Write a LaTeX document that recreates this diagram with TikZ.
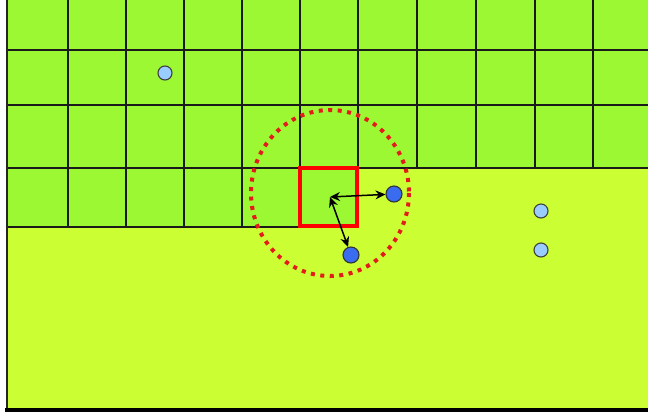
\documentclass[tikz,border=0pt]{standalone}
\usetikzlibrary{arrows.meta}
\definecolor{gridgreen}{HTML}{9BF833}
\definecolor{lowgreen}{HTML}{CCFF33}
\definecolor{lightblue}{HTML}{99CCFF}
\definecolor{darkblue}{HTML}{3A6CF0}
\definecolor{gridline}{HTML}{1A1A1A}
\definecolor{dotred}{HTML}{E41B1B}
\begin{document}
\begin{tikzpicture}[x=1pt,y=-1pt,
  gl/.style={draw=gridline, line width=2pt},
  lbdot/.style={circle, draw=black!75, line width=1.1pt, fill=lightblue, minimum size=14pt, inner sep=0pt},
  dbdot/.style={circle, draw=black!80, line width=1.1pt, fill=darkblue, minimum size=16pt, inner sep=0pt},
  arr/.style={{Stealth[length=10pt,width=9pt]}-{Stealth[length=10pt,width=9pt]}, line width=1.5pt, black}]
\useasboundingbox (0,0) rectangle (648,416);
\fill[white] (0,0) rectangle (648,416);
% lower region
\fill[lowgreen] (7,0) rectangle (648,410);
% grid region
\fill[gridgreen] (7,0) -- (648,0) -- (648,168) -- (358,168) -- (358,227) -- (7,227) -- cycle;
% horizontal grid lines
\draw[gl] (7,50) -- (648,50);
\draw[gl] (7,105) -- (648,105);
\draw[gl] (7,168) -- (648,168);
\draw[gl] (7,227) -- (300,227);
% vertical grid lines
\foreach \x in {68,126,184,242} \draw[gl] (\x,0) -- (\x,227);
\foreach \x in {300,358,417,476,535,593} \draw[gl] (\x,0) -- (\x,168);
% frame
\draw[draw=black!85, line width=2pt] (7,0) -- (7,410);
\draw[draw=black, line width=4pt] (5,410) -- (648,410);
% red box
\draw[draw=red, line width=4pt] (300,168) rectangle (357,226);
% dotted ellipse
\draw[dotred, line width=4pt, dash pattern=on 4pt off 5.5pt] (330,193) ellipse [x radius=79, y radius=83];
% dots
\node[lbdot] (l1) at (165,73) {};
\node[lbdot] (l2) at (541,211) {};
\node[lbdot] (l3) at (541,250) {};
\node[dbdot] (b1) at (394,194) {};
\node[dbdot] (b2) at (351,255) {};
\coordinate (ctr) at (330,197);
\draw[arr] (ctr) -- (b1);
\draw[arr] (ctr) -- (b2);
\end{tikzpicture}
\end{document}
